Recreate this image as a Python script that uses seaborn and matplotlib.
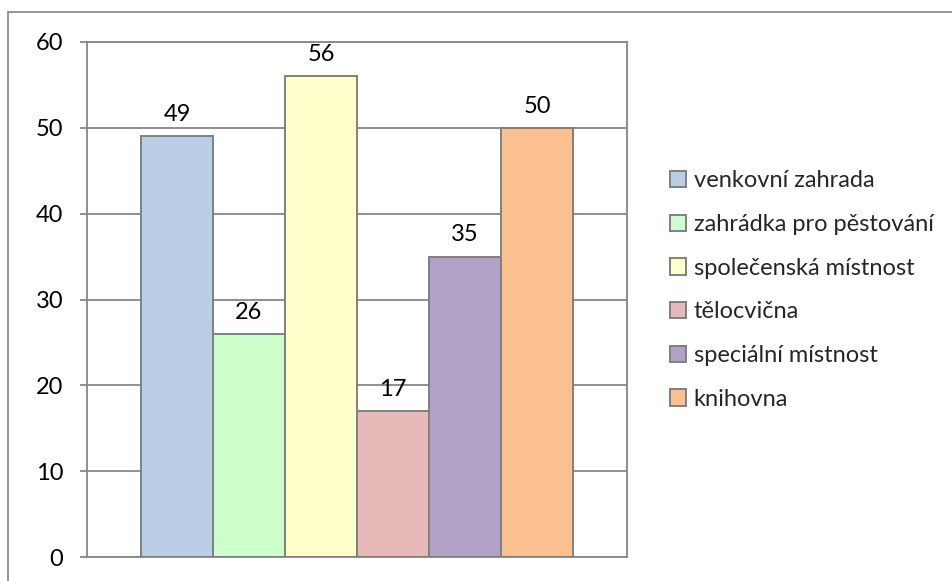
import matplotlib
matplotlib.use("Agg")
import matplotlib.pyplot as plt
import matplotlib.patches as mpatches
import seaborn as sns
import pandas as pd

# Room preferences (number of answers)
categories = ["venkovní zahrada", "zahrádka pro pěstování", "společenská místnost",
              "tělocvična", "speciální místnost", "knihovna"]
values = [49, 26, 56, 17, 35, 50]
colors = ["#B9CDE5", "#CCFFCC", "#FFFFCC", "#E6B9B8", "#B3A2C7", "#FAC090"]
y_ticks = [0, 10, 20, 30, 40, 50, 60]

df = pd.DataFrame({"group": [""] * len(categories), "prostor": categories, "počet": values})

sns.set_theme(style="white")
plt.rcParams["font.family"] = ["Lato", "DejaVu Sans"]

GRAY = "#868686"
FS = 17

fig = plt.figure(figsize=(9.53, 5.81), dpi=100)
ax = fig.add_axes([87 / 953, 24 / 581, 540 / 953, 515 / 581])

sns.barplot(data=df, x="group", y="počet", hue="prostor", hue_order=categories,
            palette=colors, saturation=1, width=0.8, edgecolor="#808080",
            linewidth=1.4, ax=ax, zorder=3)

ax.set_xlim(-0.5, 0.5)
ax.set_ylim(0, 60)
ax.set_yticks(y_ticks)
ax.set_xticks([])
ax.set_xlabel("")
ax.set_ylabel("")
ax.grid(axis="y", color=GRAY, linewidth=1.3, zorder=0)
ax.set_axisbelow(True)

for s in ax.spines.values():
    s.set_color(GRAY)
    s.set_linewidth(1.3)
    s.set_visible(True)

ax.tick_params(axis="y", direction="out", length=5, width=1.3, color=GRAY,
               pad=12, labelsize=FS, labelcolor="black", left=True)

for cont in ax.containers:
    ax.bar_label(cont, padding=8, fontsize=FS, color="black")

sns.move_legend(ax, loc="center left", bbox_to_anchor=(661 / 953, 291 / 581),
                bbox_transform=fig.transFigure, frameon=False, title=None,
                fontsize=FS, handlelength=0.68, handleheight=0.68,
                handletextpad=0.3, labelspacing=0.96, borderaxespad=0)

# Outer chart frame
fig.patches.append(mpatches.Rectangle((8 / 953, -0.1), 1.1, (581 - 12) / 581 + 0.1,
                                      transform=fig.transFigure, fill=False,
                                      edgecolor="#8c8c8c", linewidth=1.3,
                                      clip_on=False))

fig.savefig("out.png", dpi=100)
